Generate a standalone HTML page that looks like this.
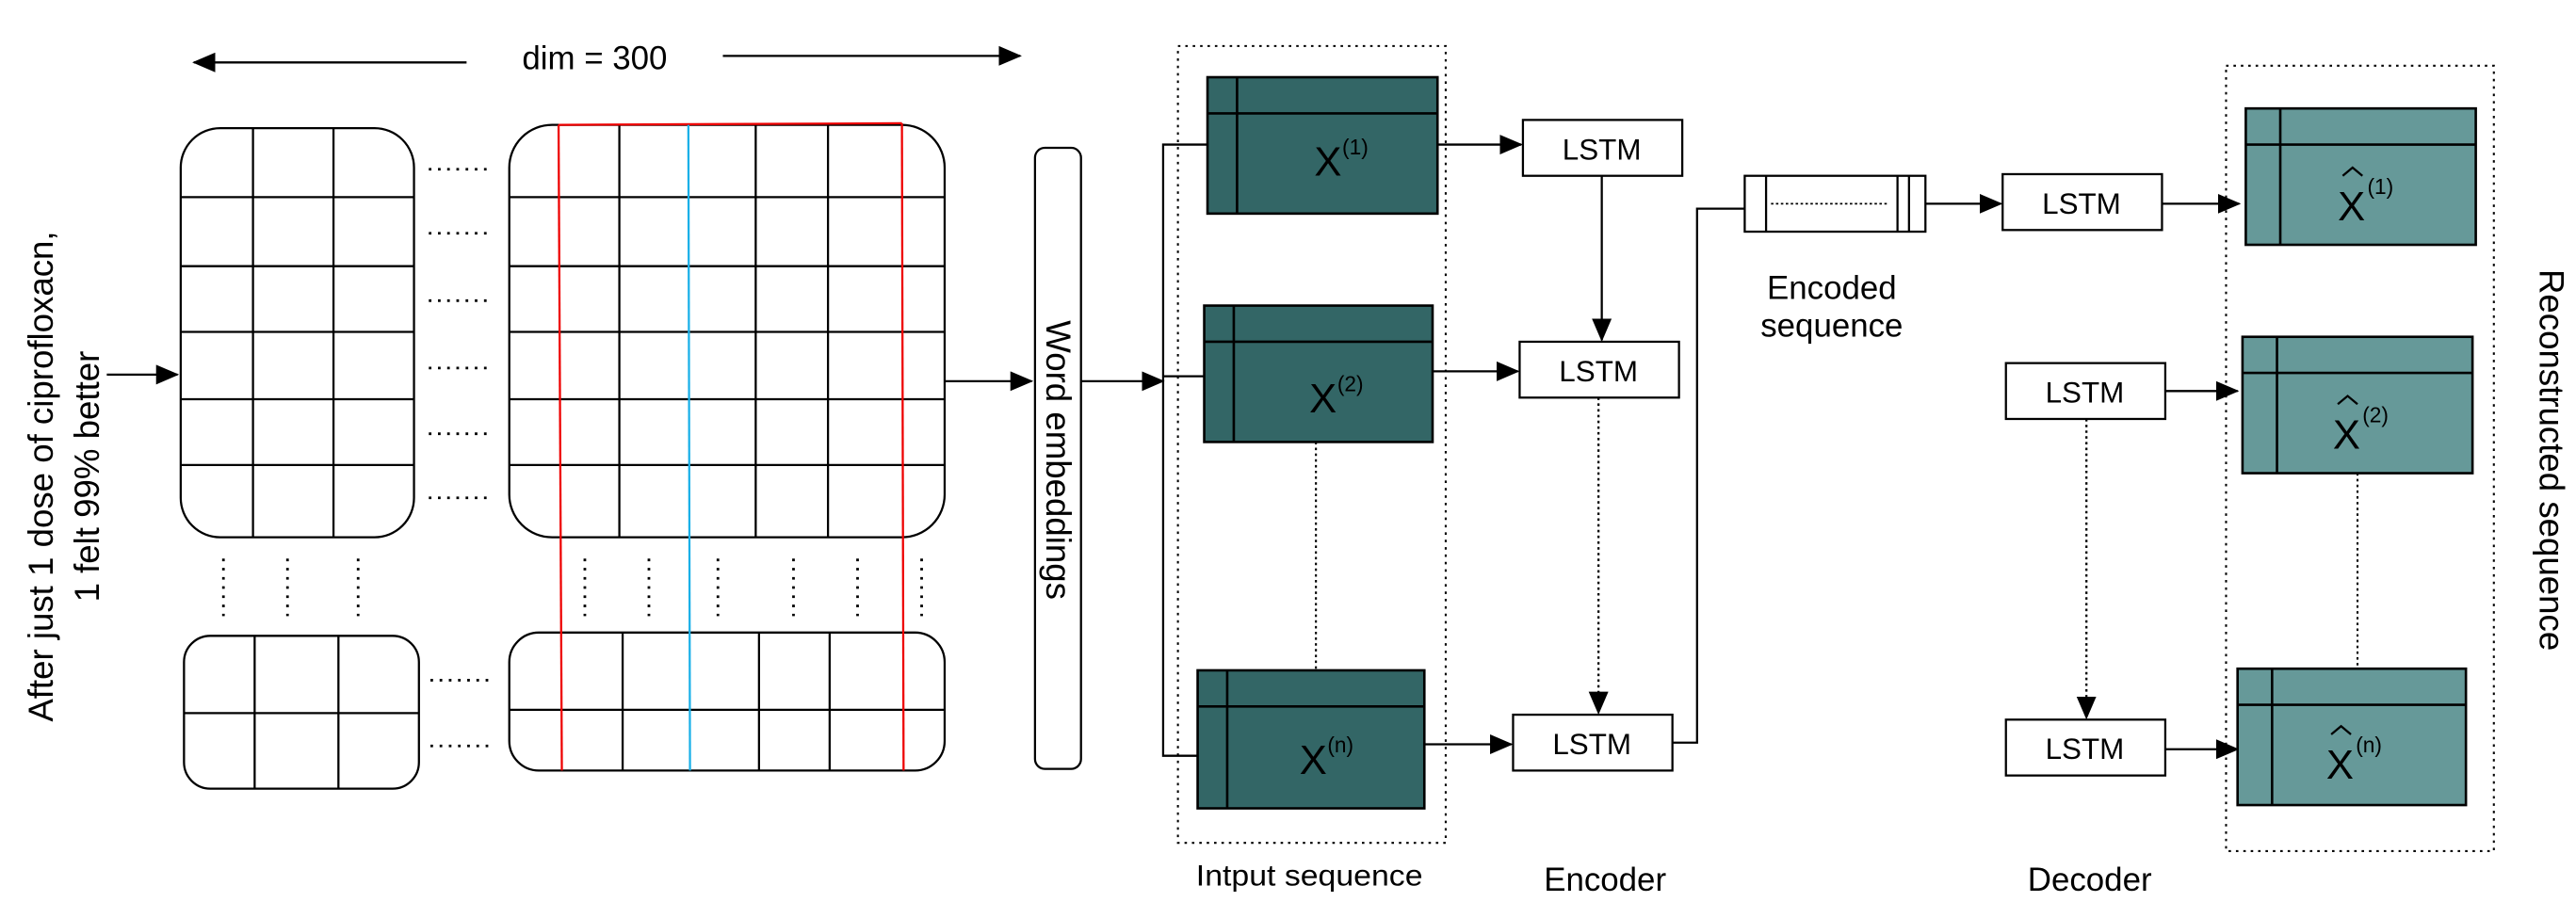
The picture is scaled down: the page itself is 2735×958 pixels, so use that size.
<!DOCTYPE html>
<html><head><meta charset="utf-8"><style>
html,body{margin:0;padding:0;background:#fff;}
svg{display:block;}
text{font-family:"Liberation Sans",sans-serif;fill:#000;}
</style></head><body>
<svg width="2735" height="958" viewBox="0 0 1568 549" preserveAspectRatio="none" xmlns="http://www.w3.org/2000/svg">
<defs>
<marker id="ahb" markerWidth="14" markerHeight="12" refX="13" refY="6" orient="auto" markerUnits="userSpaceOnUse"><path d="M0,0 L14,6 L0,12 z" fill="#000"/></marker>
</defs>
<g stroke="#000" stroke-width="1.3" fill="none">
<line x1="284" y1="38" x2="118" y2="38" marker-end="url(#ahb)"/>
<line x1="440" y1="34" x2="621" y2="34" marker-end="url(#ahb)"/>
<line x1="65" y1="228" x2="108" y2="228" marker-end="url(#ahb)"/>
<rect x="110" y="78" width="142" height="249" rx="24"/>
<path d="M110 120H252M110 162H252M110 202H252M110 243H252M110 283H252M154 78V327M203 78V327"/>
<rect x="310" y="76" width="265" height="251" rx="26"/>
<path d="M310 120H575M310 162H575M310 202H575M310 243H575M310 283H575M377 76V327M460 76V327M504 76V327"/>
<rect x="112" y="387" width="143" height="93" rx="16"/>
<path d="M112 434H255M155 387V480M206 387V480"/>
<rect x="310" y="385" width="265" height="84" rx="18"/>
<path d="M310 432H575M379 385V469M462 385V469M505 385V469"/>
</g>
<g stroke="#e00" stroke-width="1.3"><line x1="340" y1="76" x2="342" y2="469"/><line x1="549" y1="75" x2="550" y2="469"/><line x1="340" y1="76" x2="549" y2="75"/></g>
<g stroke="#1ab0e8" stroke-width="1.3"><line x1="419" y1="76" x2="420" y2="469"/></g>
<g stroke="#000" stroke-width="1.6" stroke-dasharray="1.6,4" fill="none">
<path d="M261 103H300M261 142H300M261 183H300M261 224H300M261 264H300M261 303H300M262 414H301M262 454H301"/>
<path d="M136 340V375 M175 340V375 M218 340V375 M356 340V375 M395 340V375 M437 340V375 M483 340V375 M522 340V375 M561 340V375"/>
</g>
<g stroke="#000" stroke-width="1.3" fill="none">
<line x1="575" y1="232" x2="628" y2="232" marker-end="url(#ahb)"/>
<rect x="630" y="90" width="28" height="378" rx="6"/>
<line x1="658" y1="232" x2="708" y2="232" marker-end="url(#ahb)"/>
<path d="M735 88H708V460H729M708 229H733"/>
</g>
<text transform="translate(644,280) rotate(90)" font-size="21" text-anchor="middle" dominant-baseline="central">Word embeddings</text>
<text transform="translate(25,290) rotate(-90)" font-size="21" text-anchor="middle" dominant-baseline="central">After just 1 dose of ciprofloxacn,</text>
<text transform="translate(53,290) rotate(-90)" font-size="21" text-anchor="middle" dominant-baseline="central">1 felt 99% better</text>
<text x="362" y="42" font-size="20" text-anchor="middle">dim = 300</text>
<rect x="717" y="28" width="163" height="485" fill="none" stroke="#000" stroke-width="1.2" stroke-dasharray="1.5,3"/>
<g stroke="#000" stroke-width="1.5" fill="#336666">
<rect x="735" y="47" width="140" height="83"/><path d="M753 47V130M735 69H875"/>
<rect x="733" y="186" width="139" height="83"/><path d="M751 186V269M733 208H872"/>
<rect x="729" y="408" width="138" height="84"/><path d="M747 408V492M729 430H867"/>
</g>
<line x1="801" y1="269" x2="801" y2="408" stroke="#000" stroke-width="1.2" stroke-dasharray="1.5,2"/>
<g font-size="25"><text x="800" y="107">X</text><text x="797" y="251">X</text><text x="791" y="471">X</text></g>
<g font-size="13"><text x="817" y="94">(1)</text><text x="814" y="238">(2)</text><text x="808" y="458">(n)</text></g>
<g stroke="#000" stroke-width="1.3" fill="#fff">
<rect x="927" y="73" width="97" height="34"/>
<rect x="925" y="208" width="97" height="34"/>
<rect x="921" y="435" width="97" height="34"/>
</g>
<g font-size="18" text-anchor="middle"><text x="975" y="97">LSTM</text><text x="973" y="232">LSTM</text><text x="969" y="459">LSTM</text></g>
<g stroke="#000" stroke-width="1.3" fill="none">
<line x1="875" y1="88" x2="926" y2="88" marker-end="url(#ahb)"/>
<line x1="872" y1="226" x2="924" y2="226" marker-end="url(#ahb)"/>
<line x1="867" y1="453" x2="920" y2="453" marker-end="url(#ahb)"/>
<line x1="975" y1="107" x2="975" y2="207" marker-end="url(#ahb)"/>
<line x1="973" y1="242" x2="973" y2="434" stroke-dasharray="1.5,2" marker-end="url(#ahb)"/>
<path d="M1018 452H1033V127H1062"/>
<rect x="1062" y="107" width="110" height="34" fill="#fff"/>
<path d="M1075 107V141M1155 107V141M1162 107V141"/>
<line x1="1078" y1="124" x2="1150" y2="124" stroke-dasharray="1.5,1.5" stroke-width="1"/>
<line x1="1172" y1="124" x2="1218" y2="124" marker-end="url(#ahb)"/>
</g>
<g font-size="20" text-anchor="middle"><text x="1115" y="182">Encoded</text><text x="1115" y="205">sequence</text></g>
<g stroke="#000" stroke-width="1.3" fill="#fff">
<rect x="1219" y="106" width="97" height="34"/>
<rect x="1221" y="221" width="97" height="34"/>
<rect x="1221" y="438" width="97" height="34"/>
</g>
<g font-size="18" text-anchor="middle"><text x="1267" y="130">LSTM</text><text x="1269" y="245">LSTM</text><text x="1269" y="462">LSTM</text></g>
<g stroke="#000" stroke-width="1.3" fill="none">
<line x1="1316" y1="124" x2="1363" y2="124" marker-end="url(#ahb)"/>
<line x1="1318" y1="238" x2="1362" y2="238" marker-end="url(#ahb)"/>
<line x1="1318" y1="456" x2="1362" y2="456" marker-end="url(#ahb)"/>
<line x1="1270" y1="255" x2="1270" y2="437" stroke-dasharray="1.5,2" marker-end="url(#ahb)"/>
</g>
<rect x="1355" y="40" width="163" height="478" fill="none" stroke="#000" stroke-width="1.2" stroke-dasharray="1.5,3"/>
<g stroke="#000" stroke-width="1.5" fill="#669999">
<rect x="1367" y="66" width="140" height="83"/><path d="M1388 66V149M1367 88H1507"/>
<rect x="1365" y="205" width="140" height="83"/><path d="M1386 205V288M1365 227H1505"/>
<rect x="1362" y="407" width="139" height="83"/><path d="M1383 407V490M1362 429H1501"/>
</g>
<line x1="1435" y1="288" x2="1435" y2="407" stroke="#000" stroke-width="1.2" stroke-dasharray="1.5,2"/>
<g font-size="25"><text x="1423" y="134">X</text><text x="1420" y="273">X</text><text x="1416" y="474">X</text></g>
<g stroke="#000" stroke-width="1.3" fill="none">
<path d="M1426 107L1432 102L1438 107"/>
<path d="M1423 246L1429 241L1435 246"/>
<path d="M1419 447L1425 442L1431 447"/>
</g>
<g font-size="13"><text x="1441" y="118">(1)</text><text x="1438" y="257">(2)</text><text x="1434" y="458">(n)</text></g>
<text transform="translate(1553,280) rotate(90)" font-size="21" text-anchor="middle" dominant-baseline="central">Reconstructed sequence</text>
<text x="797" y="539" font-size="18" text-anchor="middle" textLength="138" lengthAdjust="spacingAndGlyphs">Intput sequence</text>
<text x="977" y="542" font-size="20" text-anchor="middle">Encoder</text>
<text x="1272" y="542" font-size="20" text-anchor="middle">Decoder</text>
</svg>
</body></html>
